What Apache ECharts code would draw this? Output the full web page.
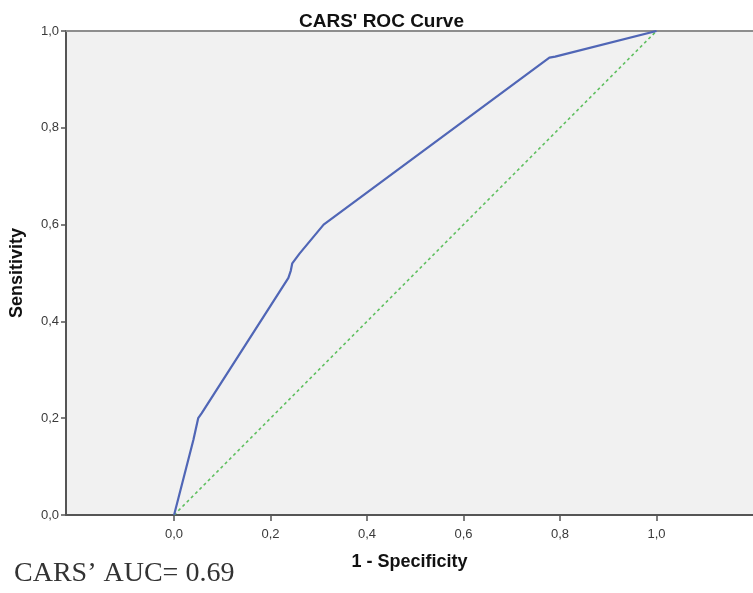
<!DOCTYPE html>
<html>
<head>
<meta charset="utf-8">
<title>CARS' ROC Curve</title>
<script src="https://cdn.jsdelivr.net/npm/echarts@6/dist/echarts.min.js"></script>
<style>
  html, body { margin: 0; padding: 0; background: #fff; }
  #main { width: 753px; height: 593px; }
</style>
</head>
<body>
<div id="main"></div>
<script>
// ROC curve points
var rocX = [0, 0.04, 0.05, 0.057, 0.237, 0.242, 0.245, 0.26, 0.31, 0.778, 0.79, 1];
var rocY = [0, 0.155, 0.2, 0.21, 0.49, 0.505, 0.52, 0.54, 0.6, 0.945, 0.947, 1];
// reference diagonal
var diagX = [0, 1];
var diagY = [0, 1];
var tickValues = [0, 0.2, 0.4, 0.6, 0.8, 1.0];

function pairs(xs, ys) {
  var out = [];
  for (var i = 0; i < xs.length; i++) out.push([xs[i], ys[i]]);
  return out;
}
function comma(v) { return v.toFixed(1).replace('.', ','); }

var chart = echarts.init(document.getElementById('main'));
var font = 'Liberation Sans, Arial, sans-serif';

chart.setOption({
  animation: false,
  title: {
    text: "CARS' ROC Curve",
    left: 294, top: 7,
    textStyle: { fontFamily: font, fontSize: 19, fontWeight: 'bold', color: '#111' }
  },
  grid: {
    left: 64, right: 0, top: 31, bottom: 78,
    show: true, backgroundColor: '#f1f1f1', borderWidth: 0
  },
  xAxis: [{
    type: 'value', min: -0.224, max: 1.2,
    name: '1 - Specificity', nameLocation: 'middle', nameGap: 38,
    nameTextStyle: { fontFamily: font, fontSize: 18, fontWeight: 'bold', color: '#111' },
    splitLine: { show: false },
    axisLine: { show: true, onZero: false, lineStyle: { color: '#555', width: 2 } },
    axisTick: { show: true, length: 6, customValues: tickValues, lineStyle: { color: '#555', width: 1.5 } },
    axisLabel: { customValues: tickValues, formatter: comma, margin: 13,
      fontFamily: font, fontSize: 13, color: '#3a3a3a' }
  }, {
    type: 'value', position: 'top', min: -0.224, max: 1.2,
    splitLine: { show: false },
    axisLine: { show: true, onZero: false, lineStyle: { color: '#8e8e8e', width: 2 } },
    axisTick: { show: false }, axisLabel: { show: false }
  }],
  yAxis: {
    type: 'value', min: 0, max: 1, interval: 0.2,
    name: 'Sensitivity', nameLocation: 'middle', nameGap: 40, nameRotate: 90,
    nameTextStyle: { fontFamily: font, fontSize: 18, fontWeight: 'bold', color: '#111' },
    splitLine: { show: false },
    axisLine: { show: true, onZero: false, lineStyle: { color: '#555', width: 2 } },
    axisTick: { show: true, length: 5, lineStyle: { color: '#555', width: 1.5 } },
    axisLabel: { formatter: comma, margin: 7, fontFamily: font, fontSize: 13, color: '#3a3a3a' }
  },
  series: [{
    type: 'line', data: pairs(diagX, diagY), symbol: 'none', silent: true,
    lineStyle: { color: '#5fbf5f', width: 1.6, type: [3, 3] }
  }, {
    type: 'line', data: pairs(rocX, rocY), symbol: 'none', silent: true,
    lineStyle: { color: '#5066b6', width: 2.2 }
  }],
  graphic: [{
    type: 'text', left: 14, top: 560,
    style: { text: 'CARS\u2019 AUC= 0.69', fontFamily: 'Liberation Serif, serif',
      fontSize: 28, fill: '#333' }
  }]
});
</script>
</body>
</html>
